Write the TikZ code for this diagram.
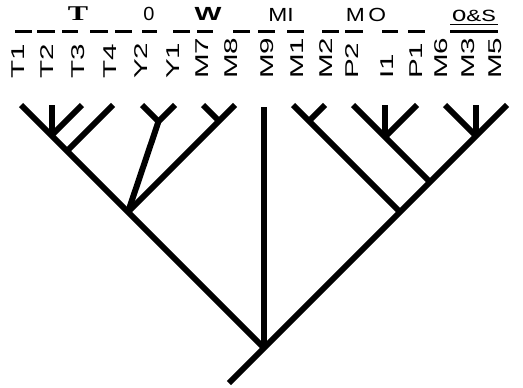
\documentclass[tikz,border=0pt]{standalone}
\usepackage{fontspec}
\setmainfont{Liberation Sans}
\newfontfamily\serifT{Liberation Serif}
\newfontfamily\monoOS{Liberation Mono}
\begin{document}
\begin{tikzpicture}[x=1pt,y=-1pt,
  branch/.style={line width=6pt,line cap=butt},
  lab/.style={rotate=90,anchor=west,inner sep=0pt,font=\fontsize{18.5}{18.5}\selectfont},
  bar/.style={line width=3.5pt},
  ttl/.style={inner sep=0pt,font=\fontsize{19}{19}\selectfont}]
\useasboundingbox (0,0) rectangle (523,388);
\newcommand{\lbl}[3]{\node[lab] (#1) at (#2,79) {\scalebox{1.6}[1]{#3}};}
% labels
\lbl{lT1}{18}{T1}
\lbl{lT2}{47}{T2}
\lbl{lT3}{78}{T3}
\lbl{lT4}{110}{T4}
\lbl{lY2}{141}{Y2}
\lbl{lY1}{173}{Y1}
\lbl{lM7}{202}{M7}
\lbl{lM8}{231}{M8}
\lbl{lM9}{267}{M9}
\lbl{lM1}{297}{M1}
\lbl{lM2}{326}{M2}
\lbl{lP2}{352}{P2}
\lbl{lI1}{387}{I1}
\lbl{lP1}{416}{P1}
\lbl{lM6}{441}{M6}
\lbl{lM3}{468}{M3}
\lbl{lM5}{495}{M5}
% group titles
\node[ttl,font=\fontsize{21}{21}\selectfont\serifT\bfseries] (gT) at (78,14) {\scalebox{1.45}[1]{T}};
\node[ttl] (gO) at (149,14) {\scalebox{1.05}[1]{0}};
\node[ttl,font=\fontsize{19}{19}\selectfont\bfseries] (gW) at (208,14) {\scalebox{1.5}[1]{W}};
\node[ttl] (gMI) at (281,15) {\scalebox{1.2}[1]{MI}};
\node[ttl] (gMO) at (366,15) {\scalebox{1.2}[1]{M\hspace{3pt}O}};
\node[ttl,font=\fontsize{17}{17}\selectfont\monoOS] (gOS) at (474,16) {\scalebox{1.45}[1]{O\&S}};
\draw[line width=1.1pt] (450,24.5) -- (498,24.5);
% dashes
\foreach \a/\b in {15/32,37/55,62/78,90/108,115/132,142/157,173/190,197/213,233/250,258/275,287/304,322/339,345/363,382/398,408/425,450/498}
  \draw[bar] (\a,31.5) -- (\b,31.5);
% tips
\foreach \n/\x in {T1/21,T2/51.5,T3/82,T4/113,Y2/142,Y1/175,M7/203,M8/235,M1/293,M2/325,P2/353,I1/385,P1/417,M6/445,M3/476,M5/507}
  \coordinate (t\n) at (\x,105);
\coordinate (tM9) at (264,107);
% junctions
\coordinate (jT) at (51.5,135.5);
\coordinate (jT4) at (67,151);
\coordinate (jL) at (128,212);
\coordinate (jY) at (158.5,121.5);
\coordinate (jM78) at (219,121);
\coordinate (root) at (264,348);
\coordinate (jM12) at (309,121);
\coordinate (jPI) at (385,137);
\coordinate (jM635) at (476,136);
\coordinate (jR2) at (430,182);
\coordinate (jR1) at (400,212);
\coordinate (stem) at (229,383);
% branches
\draw[branch] (tT1) -- (jT) -- (jT4) -- (jL) -- (root);
\draw[branch] (tT2) -- (jT);
\draw[branch] (tT3) -- (jT);
\draw[branch] (tT4) -- (jT4);
\draw[branch] (tY2) -- (jY);
\draw[branch] (tY1) -- (jY) -- (jL);
\draw[branch] (tM7) -- (jM78);
\draw[branch] (tM8) -- (jM78) -- (jL);
\draw[branch] (tM9) -- (root);
\draw[branch] (tM1) -- (jM12) -- (jR1);
\draw[branch] (tM2) -- (jM12);
\draw[branch] (tP2) -- (jPI) -- (jR2);
\draw[branch] (tI1) -- (jPI);
\draw[branch] (tP1) -- (jPI);
\draw[branch] (tM6) -- (jM635);
\draw[branch] (tM3) -- (jM635);
\draw[branch] (tM5) -- (jM635) -- (jR2) -- (jR1) -- (root) -- (stem);
\end{tikzpicture}
\end{document}
